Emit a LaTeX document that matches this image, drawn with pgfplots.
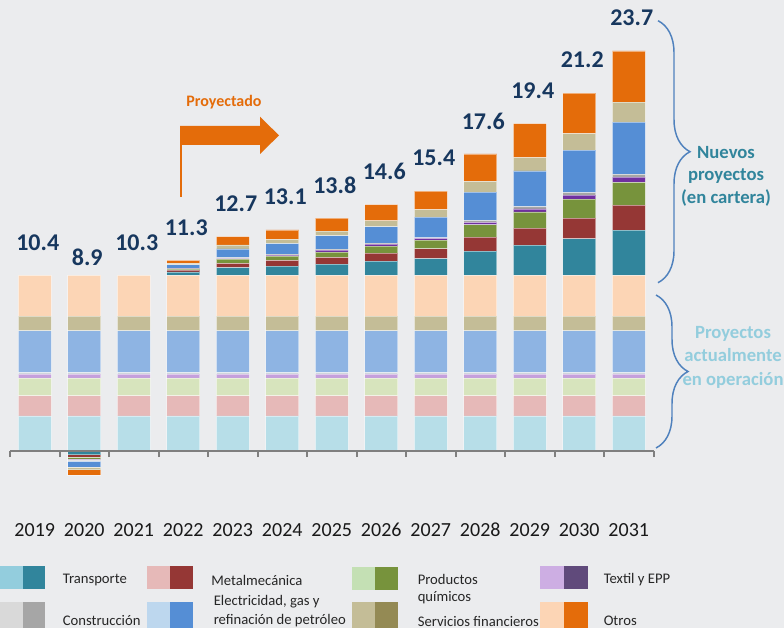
\documentclass[border=0pt]{standalone}
\usepackage{pgfplots}
\pgfplotsset{compat=1.18}
\usepackage{pgfplotstable}
\usepackage{fontspec}
\setmainfont{Carlito}
\usetikzlibrary{decorations.pathreplacing}

\definecolor{bg}{HTML}{EBECEE}
\definecolor{axgray}{HTML}{7F7F7F}
\definecolor{navy}{HTML}{17375E}
\definecolor{orng}{HTML}{E46C0A}
\definecolor{tealtxt}{HTML}{31859C}
\definecolor{ltblue}{HTML}{93CDDD}
\definecolor{bracecol}{HTML}{4F81BD}
% bar colours (light = operating, dark = new)
\definecolor{TL}{HTML}{B7DEE8}\definecolor{TD}{HTML}{31859C}
\definecolor{ML}{HTML}{E6B9B8}\definecolor{MD}{HTML}{953735}
\definecolor{QL}{HTML}{D7E4BD}\definecolor{QD}{HTML}{77933C}
\definecolor{XL}{HTML}{C5A0DC}\definecolor{XD}{HTML}{7030A0}
\definecolor{CL}{HTML}{D0D5DC}\definecolor{CD}{HTML}{A6A6A6}
\definecolor{EL}{HTML}{8EB4E3}\definecolor{ED}{HTML}{558ED5}
\definecolor{SL}{HTML}{C4BD97}\definecolor{SD}{HTML}{C4BD97}
\definecolor{OL}{HTML}{FCD5B5}\definecolor{OD}{HTML}{E46C0A}
% legend colours
\definecolor{gTL}{HTML}{93CDDD}\definecolor{gTD}{HTML}{31859C}
\definecolor{gML}{HTML}{E6B9B8}\definecolor{gMD}{HTML}{953735}
\definecolor{gQL}{HTML}{C4E0B4}\definecolor{gQD}{HTML}{77933C}
\definecolor{gXL}{HTML}{CDAEE3}\definecolor{gXD}{HTML}{604A7B}
\definecolor{gCL}{HTML}{D9D9D9}\definecolor{gCD}{HTML}{A6A6A6}
\definecolor{gEL}{HTML}{BDD7EE}\definecolor{gED}{HTML}{558ED5}
\definecolor{gSL}{HTML}{C4BD97}\definecolor{gSD}{HTML}{948A54}
\definecolor{gOL}{HTML}{FCD5B5}\definecolor{gOD}{HTML}{E46C0A}

\pgfplotstableread{
x  T    M    Q    X    C    E    S    O
0  2.08 1.19 1.05 0.24 0.08 2.48 0.87 2.41
1  2.08 1.19 1.05 0.24 0.08 2.48 0.87 2.41
2  2.08 1.19 1.05 0.24 0.08 2.48 0.87 2.41
3  2.08 1.19 1.05 0.24 0.08 2.48 0.87 2.41
4  2.08 1.19 1.05 0.24 0.08 2.48 0.87 2.41
5  2.08 1.19 1.05 0.24 0.08 2.48 0.87 2.41
6  2.08 1.19 1.05 0.24 0.08 2.48 0.87 2.41
7  2.08 1.19 1.05 0.24 0.08 2.48 0.87 2.41
8  2.08 1.19 1.05 0.24 0.08 2.48 0.87 2.41
9  2.08 1.19 1.05 0.24 0.08 2.48 0.87 2.41
10 2.08 1.19 1.05 0.24 0.08 2.48 0.87 2.41
11 2.08 1.19 1.05 0.24 0.08 2.48 0.87 2.41
12 2.08 1.19 1.05 0.24 0.08 2.48 0.87 2.41
}\tblLight

\pgfplotstableread{
x  T    M    Q    X    C    E    S    O
0  0    0    0    0    0    0    0    0
1  0    0    0    0    0    0    0    0
2  0    0    0    0    0    0    0    0
3  0.21 0.10 0.06 0.02 0.04 0.20 0.08 0.19
4  0.47 0.25 0.24 0.04 0.06 0.51 0.24 0.49
5  0.55 0.34 0.25 0.06 0.06 0.63 0.25 0.56
6  0.67 0.40 0.31 0.12 0.06 0.79 0.28 0.77
7  0.85 0.47 0.41 0.12 0.06 0.97 0.36 0.96
8  0.99 0.59 0.51 0.10 0.04 1.22 0.45 1.10
9  1.44 0.83 0.73 0.15 0.10 1.68 0.65 1.62
10 1.80 1.01 0.95 0.18 0.14 2.11 0.79 2.02
11 2.17 1.22 1.13 0.24 0.14 2.52 0.98 2.40
12 2.68 1.48 1.36 0.31 0.16 3.10 1.18 3.03
}\tblDark

\pgfplotstableread{
x  T     M     Q     X     C     E     S     O
1  -0.22 -0.15 -0.13 -0.05 -0.04 -0.37 -0.14 -0.35
}\tblNeg

\pgfplotsset{
  common/.style={
    at={(7.5pt,107.43pt)}, anchor=south west,
    scale only axis, width=482.625pt, height=329.16pt,
    xmin=-0.5, xmax=12.5, ymin=-2, ymax=24,
    ybar stacked, bar width=24.75pt, clip=false,
  },
  barsty/.style={fill=#1, draw=white, draw opacity=0.45, line width=0.5pt},
}
\tikzset{valnode/.style={font=\bfseries\fontsize{18}{20}\selectfont, text=navy, xshift=2.25pt, yshift=24.75pt}}

\begin{document}
\begin{tikzpicture}[x=0.75pt,y=0.75pt]
\path[use as bounding box, clip] (0,0) rectangle (784,628);
\fill[bg] (0,0) rectangle (784,628);

% negative part of 2020
\begin{axis}[common, hide axis]
  \addplot[barsty=TD] table[x=x,y=T]{\tblNeg};
  \addplot[barsty=MD] table[x=x,y=M]{\tblNeg};
  \addplot[barsty=QD] table[x=x,y=Q]{\tblNeg};
  \addplot[barsty=XD] table[x=x,y=X]{\tblNeg};
  \addplot[barsty=CD] table[x=x,y=C]{\tblNeg};
  \addplot[barsty=ED] table[x=x,y=E]{\tblNeg};
  \addplot[barsty=SD] table[x=x,y=S]{\tblNeg};
  \addplot[barsty=OD] table[x=x,y=O]{\tblNeg};
\end{axis}

\begin{axis}[common,
  axis on top,
  axis y line=none, axis x line*=middle,
  x axis line style={draw=axgray, line width=1.5pt},
  xtick={0,...,12},
  xticklabels={2019,2020,2021,2022,2023,2024,2025,2026,2027,2028,2029,2030,2031},
  major tick length=0pt,
  minor xtick={-0.5,0.5,...,12.5},
  minor tick length=4.5pt,
  tick align=outside,
  minor tick style={draw=axgray, line width=1.5pt},
  xticklabel style={font=\fontsize{15}{18}\selectfont, text=black!90, yshift=-50.5pt},
]
  \addplot[barsty=TL] table[x=x,y=T]{\tblLight};
  \addplot[barsty=ML] table[x=x,y=M]{\tblLight};
  \addplot[barsty=QL] table[x=x,y=Q]{\tblLight};
  \addplot[barsty=XL] table[x=x,y=X]{\tblLight};
  \addplot[barsty=CL] table[x=x,y=C]{\tblLight};
  \addplot[barsty=EL] table[x=x,y=E]{\tblLight};
  \addplot[barsty=SL] table[x=x,y=S]{\tblLight};
  \addplot[barsty=OL] table[x=x,y=O]{\tblLight};
  \addplot[barsty=TD] table[x=x,y=T]{\tblDark};
  \addplot[barsty=MD] table[x=x,y=M]{\tblDark};
  \addplot[barsty=QD] table[x=x,y=Q]{\tblDark};
  \addplot[barsty=XD] table[x=x,y=X]{\tblDark};
  \addplot[barsty=CD] table[x=x,y=C]{\tblDark};
  \addplot[barsty=ED] table[x=x,y=E]{\tblDark};
  \addplot[barsty=SD] table[x=x,y=S]{\tblDark};
  \addplot[barsty=OD] table[x=x,y=O]{\tblDark};
  % totals
  \node[valnode] at (axis cs:0,10.4) {10.4};
  \node[valnode] at (axis cs:1,9.54) {8.9};
  \node[valnode] at (axis cs:2,10.4) {10.3};
  \node[valnode] at (axis cs:3,11.3) {11.3};
  \node[valnode] at (axis cs:4,12.7) {12.7};
  \node[valnode] at (axis cs:5,13.1) {13.1};
  \node[valnode] at (axis cs:6,13.8) {13.8};
  \node[valnode] at (axis cs:7,14.6) {14.6};
  \node[valnode] at (axis cs:8,15.4) {15.4};
  \node[valnode] at (axis cs:9,17.6) {17.6};
  \node[valnode] at (axis cs:10,19.4) {19.4};
  \node[valnode] at (axis cs:11,21.2) {21.2};
  \node[valnode] at (axis cs:12,23.7) {23.7};
\end{axis}

% Proyectado arrow
\node[font=\bfseries\fontsize{12}{14}\selectfont, text=orng] at (224,526.3) {Proyectado};
\draw[orng, line width=1.5pt] (181,431) -- (181,500);
\fill[orng] (180,483) -- (260,483) -- (260,474) -- (279,492.6) -- (260,511.3) -- (260,502) -- (180,502) -- cycle;

% braces
\draw[bracecol, line width=1.1pt, decorate, decoration={brace, amplitude=24}] (658,607.3) -- (658,345.3);
\draw[bracecol, line width=1.1pt, decorate, decoration={brace, amplitude=24}] (656,333) -- (656,180);
\node[font=\bfseries\fontsize{14}{16.9}\selectfont, text=tealtxt, align=center] at (726,452) {Nuevos\\proyectos\\(en cartera)};
\node[font=\bfseries\fontsize{14}{17.6}\selectfont, text=ltblue, align=center] at (733,271) {Proyectos\\actualmente\\en operación};

% legend
\fill[gTL] (0,39) rectangle (22.5,62); \fill[gTD] (22.5,39) rectangle (45,62);
\fill[gML] (147,39) rectangle (170,62); \fill[gMD] (170,39) rectangle (193,62);
\fill[gQL] (351.5,38) rectangle (375,61); \fill[gQD] (375,38) rectangle (398,61);
\fill[gXL] (540,39) rectangle (564,62); \fill[gXD] (564,39) rectangle (588,62);
\fill[gCL] (0,0) rectangle (22.5,26); \fill[gCD] (22.5,0) rectangle (45,26);
\fill[gEL] (147,0) rectangle (170,26); \fill[gED] (170,0) rectangle (193,26);
\fill[gSL] (351.5,0) rectangle (375,26); \fill[gSD] (375,0) rectangle (398,26);
\fill[gOL] (540,0) rectangle (564,26); \fill[gOD] (564,0) rectangle (588,26);
\tikzset{legtxt/.style={font=\fontsize{11}{12.75}\selectfont, text=black!85, anchor=west, inner sep=0pt}}
\node[legtxt] at (62.5,48) {Transporte};
\node[legtxt] at (211,48) {Metalmecánica};
\node[legtxt, align=left] at (417.5,38.5) {Productos\\químicos};
\node[legtxt] at (603.5,48) {Textil y EPP};
\node[legtxt] at (62.5,7) {Construcción};
\node[legtxt, align=left, font=\fontsize{11}{14.5}\selectfont] at (213.5,17) {Electricidad, gas y\\refinación de petróleo};
\node[legtxt] at (417.5,7) {Servicios financieros};
\node[legtxt] at (603.5,7) {Otros};
\end{tikzpicture}
\end{document}
